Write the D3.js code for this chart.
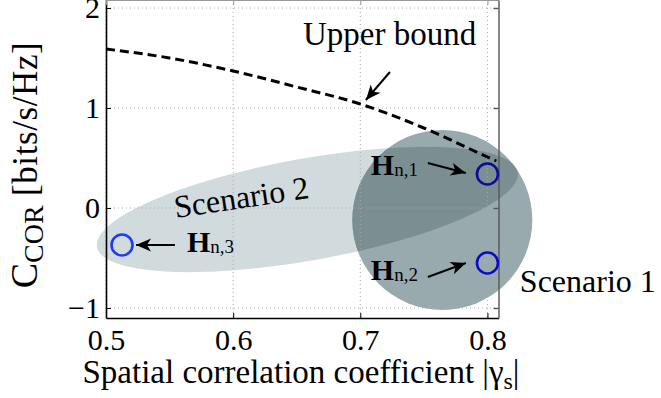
<!DOCTYPE html>
<html>
<head>
<meta charset="utf-8">
<script src="https://cdn.jsdelivr.net/npm/d3@7"></script>
</head>
<body style="margin:0; background:#fff">
<div class="visual"></div>
<script>
//data
const xTicks = [0.5, 0.6, 0.7, 0.8];
const yTicks = [-1, 0, 1, 2];
const boundX = [0.5, 0.55, 0.6, 0.65, 0.7, 0.75, 0.8, 0.807];
const boundY = [1.59, 1.50, 1.37, 1.21, 1.04, 0.80, 0.51, 0.47];
const pointNames = ["n,1", "n,2", "n,3"];
const pointX = [0.8, 0.8, 0.5126];
const pointY = [0.34, -0.55, -0.37];
const pointColors = ["#0c0c98", "#0c0cc8", "#1f3cf2"];
// Scenario 1 : circle, Scenario 2 : tilted ellipse (end points + half width)
const scen1 = {cx: 0.7645, cy: -0.12, rx: 0.0708, ry: 0.90};
const scen2 = {x1: 0.4929, y1: -0.39, x2: 0.8239, y2: 0.36, half: 0.51};
// annotations (data coords)
const labelX = [0.7083, 0.7083, 0.5637];
const labelY = [0.33, -0.72, -0.44];
const arrowFrom = [[0.7531, 0.45], [0.7531, -0.69], [0.5542, -0.37], [0.7233, 1.36]];
const arrowTo = [[0.783, 0.35], [0.783, -0.55], [0.5236, -0.37], [0.7044, 1.08]];

const FONT = "'Liberation Serif', 'Times New Roman', serif";
const width = 661, height = 398;
const x = d3.scaleLinear().domain([0.5, 0.8087]).range([106, 498.5]);
const y = d3.scaleLinear().domain([-1.1, 2.08]).range([318, 0]);

const svg = d3.select(".visual").append("svg")
  .attr("width", width).attr("height", height)
  .style("font-family", FONT);

const defs = svg.append("defs");
defs.append("marker")
  .attr("id", "head")
  .attr("markerUnits", "userSpaceOnUse")
  .attr("viewBox", "-16 -8 18 16")
  .attr("markerWidth", 18).attr("markerHeight", 16)
  .attr("refX", 0).attr("refY", 0)
  .attr("orient", "auto")
  .append("path")
  .attr("d", "M0,0L-15,-6.5L-11,0L-15,6.5Z")
  .attr("fill", "#000");

// scenario shapes
const c1 = {cx: x(scen1.cx), cy: y(scen1.cy), rx: x(scen1.cx + scen1.rx) - x(scen1.cx), ry: y(scen1.cy) - y(scen1.cy + scen1.ry)};
const ex1 = x(scen2.x1), ey1 = y(scen2.y1), ex2 = x(scen2.x2), ey2 = y(scen2.y2);
const e2 = {
  cx: (ex1 + ex2) / 2, cy: (ey1 + ey2) / 2,
  a: Math.hypot(ex2 - ex1, ey2 - ey1) / 2,
  b: y(0) - y(scen2.half),
  ang: Math.atan2(ey2 - ey1, ex2 - ex1) * 180 / Math.PI
};

defs.append("clipPath").attr("id", "clip1")
  .append("ellipse")
  .attr("cx", c1.cx).attr("cy", c1.cy).attr("rx", c1.rx).attr("ry", c1.ry);

function ellipse2(sel) {
  return sel.append("ellipse")
    .attr("cx", 0).attr("cy", 0).attr("rx", e2.a).attr("ry", e2.b)
    .attr("transform", "translate(" + e2.cx + "," + e2.cy + ") rotate(" + e2.ang + ")");
}
ellipse2(svg).attr("fill", "#d1dbdd");
svg.append("ellipse")
  .attr("cx", c1.cx).attr("cy", c1.cy).attr("rx", c1.rx).attr("ry", c1.ry)
  .attr("fill", "#98aaae");
ellipse2(svg.append("g").attr("clip-path", "url(#clip1)")).attr("fill", "#7b8f93");

// grid
const grid = svg.append("g").attr("stroke", "#a8a8a8").attr("stroke-width", 1).attr("stroke-dasharray", "1,3");
grid.selectAll(".gx").data(xTicks).enter().append("line")
  .attr("x1", d => x(d)).attr("x2", d => x(d)).attr("y1", y.range()[1]).attr("y2", y.range()[0]);
grid.selectAll(".gy").data(yTicks).enter().append("line")
  .attr("y1", d => y(d)).attr("y2", d => y(d)).attr("x1", x.range()[0]).attr("x2", x.range()[1]);

// axes
const xAxis = d3.axisBottom(x).tickValues(xTicks).tickFormat(d3.format(".1f")).tickSizeInner(-5).tickSizeOuter(0).tickPadding(11);
const yAxis = d3.axisLeft(y).tickValues(yTicks).tickFormat(d3.format("d")).tickSizeInner(-5).tickSizeOuter(0).tickPadding(6);
const gx = svg.append("g").attr("transform", "translate(0," + y.range()[0] + ")").call(xAxis);
const gy = svg.append("g").attr("transform", "translate(" + x.range()[0] + ",0)").call(yAxis);
[gx, gy].forEach(g => {
  g.attr("font-family", null).style("font-family", FONT);
  g.select(".domain").attr("stroke", "#000").attr("stroke-width", 1.6);
  g.selectAll(".tick line").attr("stroke", "#000");
  g.selectAll(".tick text").attr("font-size", 30).attr("fill", "#000").style("font-family", FONT);
});
svg.append("g").attr("transform", "translate(0," + y.range()[1] + ")")
  .call(d3.axisTop(x).tickValues(xTicks).tickFormat("").tickSizeInner(-5).tickSizeOuter(0))
  .call(g => g.selectAll("path,line").attr("stroke", "#999"));
svg.append("g").attr("transform", "translate(" + x.range()[1] + ",0)")
  .call(d3.axisRight(y).tickValues(yTicks).tickFormat("").tickSizeInner(-5).tickSizeOuter(0))
  .call(g => g.selectAll("path,line").attr("stroke", "#555").attr("stroke-width", 1.4));

// upper bound
const line = d3.line().x((d, i) => x(boundX[i])).y((d, i) => y(boundY[i])).curve(d3.curveMonotoneX);
svg.append("path")
  .datum(boundX)
  .attr("d", line)
  .attr("fill", "none")
  .attr("stroke", "#000")
  .attr("stroke-width", 3)
  .attr("stroke-dasharray", "9,5");

// channel points
svg.selectAll(".pt").data(pointX).enter().append("circle")
  .attr("cx", (d, i) => x(pointX[i]))
  .attr("cy", (d, i) => y(pointY[i]))
  .attr("r", 10.5)
  .attr("fill", "none")
  .attr("stroke", (d, i) => pointColors[i])
  .attr("stroke-width", 2.6);

// arrows
svg.selectAll(".arrow").data(arrowFrom).enter().append("line")
  .attr("x1", d => x(d[0])).attr("y1", d => y(d[1]))
  .attr("x2", (d, i) => x(arrowTo[i][0])).attr("y2", (d, i) => y(arrowTo[i][1]))
  .attr("stroke", "#000").attr("stroke-width", 2)
  .attr("marker-end", "url(#head)");

// H labels
const hl = svg.selectAll(".hl").data(pointNames).enter().append("text")
  .attr("x", (d, i) => x(labelX[i]))
  .attr("y", (d, i) => y(labelY[i]))
  .attr("fill", "#000")
  .style("font-family", FONT);
hl.append("tspan").attr("font-size", 30).attr("font-weight", "bold").text("H");
hl.append("tspan").attr("font-size", 19).attr("dy", 1).text(d => d);

// text annotations
svg.append("text").attr("x", x(0.6549)).attr("y", y(1.63)).attr("font-size", 33).style("font-family", FONT).text("Upper bound");
svg.append("text").attr("x", x(0.8255)).attr("y", y(-0.84)).attr("font-size", 32).style("font-family", FONT).text("Scenario 1");
svg.append("text")
  .attr("transform", "translate(" + x(0.6077) + "," + y(0.0) + ") rotate(-8.5)")
  .attr("text-anchor", "middle").attr("font-size", 32).style("font-family", FONT).text("Scenario 2");

// axis labels
const xl = svg.append("text").attr("x", 301).attr("y", 383).attr("text-anchor", "middle").attr("font-size", 33).style("font-family", FONT);
xl.append("tspan").text("Spatial correlation coefficient |\u03b3");
xl.append("tspan").attr("font-size", 24).attr("dy", 6).text("s");
xl.append("tspan").attr("dy", -6).text("|");

const yl = svg.append("text").attr("transform", "translate(37,165) rotate(-90)").attr("text-anchor", "middle").style("font-family", FONT);
yl.append("tspan").attr("font-size", 38).text("C");
yl.append("tspan").attr("font-size", 28).attr("dy", 6).text("COR");
yl.append("tspan").attr("font-size", 35).attr("dy", -6).attr("letter-spacing", 0.6).text(" [bits/s/Hz]");
</script>
</body>
</html>
